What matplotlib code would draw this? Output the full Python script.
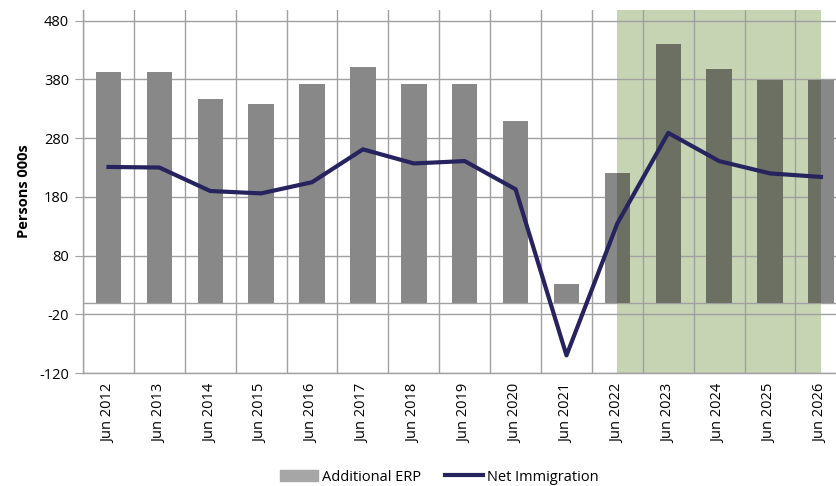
import numpy as np
import matplotlib
matplotlib.use("Agg")
import matplotlib.pyplot as plt
from matplotlib.lines import Line2D
from matplotlib.patches import Patch

plt.rcParams['font.family'] = ['Open Sans', 'DejaVu Sans']
plt.rcParams['axes.unicode_minus'] = False

years = ['Jun 2012', 'Jun 2013', 'Jun 2014', 'Jun 2015', 'Jun 2016', 'Jun 2017',
         'Jun 2018', 'Jun 2019', 'Jun 2020', 'Jun 2021', 'Jun 2022', 'Jun 2023',
         'Jun 2024', 'Jun 2025', 'Jun 2026']
additional_erp = [392, 393, 346, 339, 373, 402, 372, 372, 310, 32, 221, 441, 397, 379, 379]
net_immigration = [231, 230, 190, 186, 205, 261, 237, 241, 193, -90, 135, 289, 241, 220, 214]
yticks = [-120, -20, 80, 180, 280, 380, 480]
shade_from, shade_to = 'Jun 2022', 'Jun 2026'

grid_col = '#a0a0a0'
bar_col = '#888888'
bar_col_shaded = '#6b7063'
shade_col = '#c6d4b4'
line_col = '#26235f'

x = np.arange(len(years))

fig = plt.figure(figsize=(8.37, 4.86), dpi=100)
ax = fig.add_axes([0.0992, 0.2325, 0.912, 0.7465])

ax.set_xlim(-0.5, len(years) - 0.5)
ax.set_ylim(-120, 498)

# forecast shading
i0, i1 = years.index(shade_from), years.index(shade_to)
span = ax.axvspan(i0, i1, color=shade_col, zorder=0.5, lw=0)

# grid
ax.set_yticks(yticks)
ax.yaxis.grid(True, color=grid_col, lw=1, zorder=0.8)
ax.set_xticks(x)
ax.set_xticklabels(years, rotation=90)
ax.set_xticks(np.arange(-0.5, len(years), 1), minor=True)
ax.xaxis.grid(True, which='minor', color=grid_col, lw=1, zorder=0.8)
ax.set_axisbelow(True)
ax.axhline(0, color=grid_col, lw=1, zorder=0.9)

for s in ['top', 'right']:
    ax.spines[s].set_visible(False)
for s in ['left', 'bottom']:
    ax.spines[s].set_color(grid_col)
    ax.spines[s].set_linewidth(1)

ax.tick_params(axis='y', length=6, color=grid_col, labelsize=10.5, pad=4)
ax.tick_params(axis='x', which='major', length=0, labelsize=10.5, pad=8)
ax.tick_params(axis='x', which='minor', length=0)

# bars
ax.bar(x, additional_erp, width=0.5, color=bar_col, zorder=2)
dark = ax.bar(x, additional_erp, width=0.5, color=bar_col_shaded, zorder=2.1)
for b in dark:
    b.set_clip_path(span)

# line
ax.plot(x, net_immigration, color=line_col, lw=3, zorder=3, solid_joinstyle='round')

ax.set_ylabel('Persons 000s', fontsize=10.5, fontweight='bold', labelpad=6)

handles = [Patch(color='#a6a6a6', label='Additional ERP'),
           Line2D([], [], color=line_col, lw=3, label='Net Immigration')]
fig.legend(handles=handles, loc='center', bbox_to_anchor=(0.525, 0.018), ncol=2,
           frameon=False, fontsize=10.5, handlelength=2.6, handletextpad=0.3,
           columnspacing=1.6, handleheight=0.8)

fig.savefig('out.png', dpi=100)
